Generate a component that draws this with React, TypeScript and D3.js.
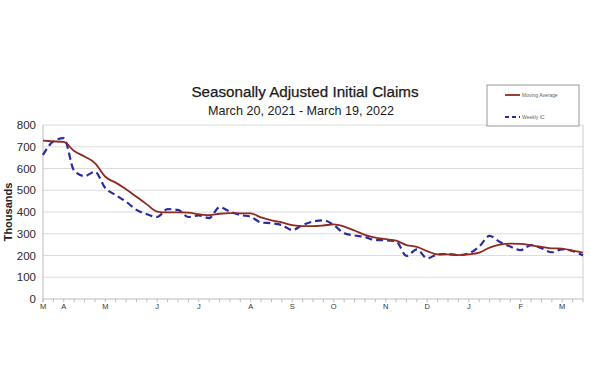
import { useEffect, useRef } from 'react';
import * as d3 from 'd3';

// one point per week, March 20, 2021 .. March 19, 2022 (thousands)
const weeklyIC = [
  662, 725, 740, 590, 565, 585, 510, 478, 447, 410,
  390, 377, 413, 410, 377, 384, 372, 422, 402, 386,
  378, 352, 348, 340, 317, 340, 356, 362, 340, 302,
  292, 285, 271, 270, 265, 198, 228, 187, 205, 207,
  202, 210, 241, 290, 262, 241, 225, 248, 233, 215,
  228, 221, 200,
];

const movingAverage = [
  728, 725, 722, 680, 655, 625, 562, 535, 505, 470,
  435, 402, 398, 398, 397, 390, 385, 392, 395, 394,
  394, 375, 362, 352, 340, 335, 335, 338, 343, 333,
  315, 295, 282, 275, 268, 248, 240, 220, 205, 205,
  202, 205, 213, 236, 250, 255, 253, 247, 240, 233,
  232, 222, 213,
];

// month initials and the week index they sit on
const monthLabels = ['M', 'A', 'M', 'J', 'J', 'A', 'S', 'O', 'N', 'D', 'J', 'F', 'M'];
const monthWeeks = [0, 2, 6, 11, 15, 20, 24, 28, 33, 37, 41, 46, 50];

const yTicks = [0, 100, 200, 300, 400, 500, 600, 700, 800];

const W = 590;
const H = 389;
const plot = { left: 43, right: 583, top: 125, bottom: 299 };
const font = 'Liberation Sans, Arial, sans-serif';

export default function App() {
  const svgRef = useRef<SVGSVGElement>(null);

  useEffect(() => {
    const svg = d3.select(svgRef.current);
    svg.selectAll('*').remove();

    const x = d3.scaleLinear().domain([0, weeklyIC.length - 1]).range([plot.left, plot.right]);
    const y = d3.scaleLinear().domain([0, 800]).range([plot.bottom, plot.top]);

    svg.append('rect').attr('width', W).attr('height', H).attr('fill', '#fff');

    // titles
    svg.append('text')
      .attr('x', 305).attr('y', 97)
      .attr('text-anchor', 'middle')
      .attr('font-family', font)
      .attr('font-size', 15.2)
      .attr('fill', '#1a1a1a')
      .attr('stroke', '#1a1a1a').attr('stroke-width', 0.25)
      .text('Seasonally Adjusted Initial Claims');

    svg.append('text')
      .attr('x', 301).attr('y', 115)
      .attr('text-anchor', 'middle')
      .attr('font-family', font)
      .attr('font-size', 12.6)
      .attr('fill', '#1a1a1a')
      .text('March 20, 2021 - March 19, 2022');

    // grid
    svg.append('g')
      .selectAll('line')
      .data(yTicks)
      .join('line')
      .attr('x1', plot.left).attr('x2', plot.right)
      .attr('y1', d => y(d)).attr('y2', d => y(d))
      .attr('stroke', d => (d === 0 ? '#bbb' : '#dcdcdc'))
      .attr('stroke-width', 1.2);

    svg.append('line')
      .attr('x1', plot.left).attr('x2', plot.left)
      .attr('y1', plot.top).attr('y2', plot.bottom + 3)
      .attr('stroke', '#bbb');
    svg.append('line')
      .attr('x1', plot.right).attr('x2', plot.right)
      .attr('y1', plot.top).attr('y2', plot.bottom)
      .attr('stroke', '#ccc');

    // y labels
    svg.append('g')
      .selectAll('text')
      .data(yTicks)
      .join('text')
      .attr('x', 36).attr('y', d => y(d) + 4)
      .attr('text-anchor', 'end')
      .attr('font-family', font)
      .attr('font-size', 11.5)
      .attr('fill', '#2a2a2a')
      .text(d => d);

    svg.append('text')
      .attr('transform', `translate(12, ${(plot.top + plot.bottom) / 2}) rotate(-90)`)
      .attr('text-anchor', 'middle')
      .attr('font-family', font)
      .attr('font-size', 11)
      .attr('font-weight', 'bold')
      .attr('fill', '#222')
      .text('Thousands');

    // weekly ticks on x axis
    svg.append('g')
      .selectAll('line')
      .data(d3.range(weeklyIC.length))
      .join('line')
      .attr('x1', d => x(d)).attr('x2', d => x(d))
      .attr('y1', plot.bottom).attr('y2', plot.bottom + 3)
      .attr('stroke', '#bbb');

    svg.append('g')
      .selectAll('text')
      .data(monthLabels)
      .join('text')
      .attr('x', (_, i) => x(monthWeeks[i]))
      .attr('y', plot.bottom + 10)
      .attr('text-anchor', 'middle')
      .attr('font-family', font)
      .attr('font-size', 7.5)
      .attr('fill', '#333')
      .text(d => d);

    const line = d3.line<number>()
      .x((_, i) => x(i))
      .y(d => y(d))
      .curve(d3.curveMonotoneX);

    svg.append('path')
      .attr('d', line(weeklyIC))
      .attr('fill', 'none')
      .attr('stroke', '#2b2ba0')
      .attr('stroke-width', 2.2)
      .attr('stroke-dasharray', '7,4');

    svg.append('path')
      .attr('d', line(movingAverage))
      .attr('fill', 'none')
      .attr('stroke', '#8e2a22')
      .attr('stroke-width', 1.8);

    // legend
    const lg = svg.append('g');
    lg.append('rect')
      .attr('x', 487).attr('y', 85).attr('width', 92).attr('height', 41)
      .attr('fill', '#fff').attr('stroke', '#999');
    lg.append('line')
      .attr('x1', 505).attr('x2', 520).attr('y1', 95).attr('y2', 95)
      .attr('stroke', '#8e2a22').attr('stroke-width', 1.8);
    lg.append('line')
      .attr('x1', 505).attr('x2', 520).attr('y1', 117).attr('y2', 117)
      .attr('stroke', '#2b2ba0').attr('stroke-width', 2)
      .attr('stroke-dasharray', '4,3');
    lg.append('text')
      .attr('x', 522).attr('y', 97)
      .attr('font-family', font)
      .attr('font-size', 5)
      .attr('fill', '#666')
      .text('Moving Average');
    lg.append('text')
      .attr('x', 522).attr('y', 119)
      .attr('font-family', font)
      .attr('font-size', 5)
      .attr('fill', '#666')
      .text('Weekly IC');
  }, []);

  return (
    <svg
      ref={svgRef}
      width={W}
      height={H}
      style={{ position: 'absolute', left: 0, top: 0, display: 'block' }}
    />
  );
}
